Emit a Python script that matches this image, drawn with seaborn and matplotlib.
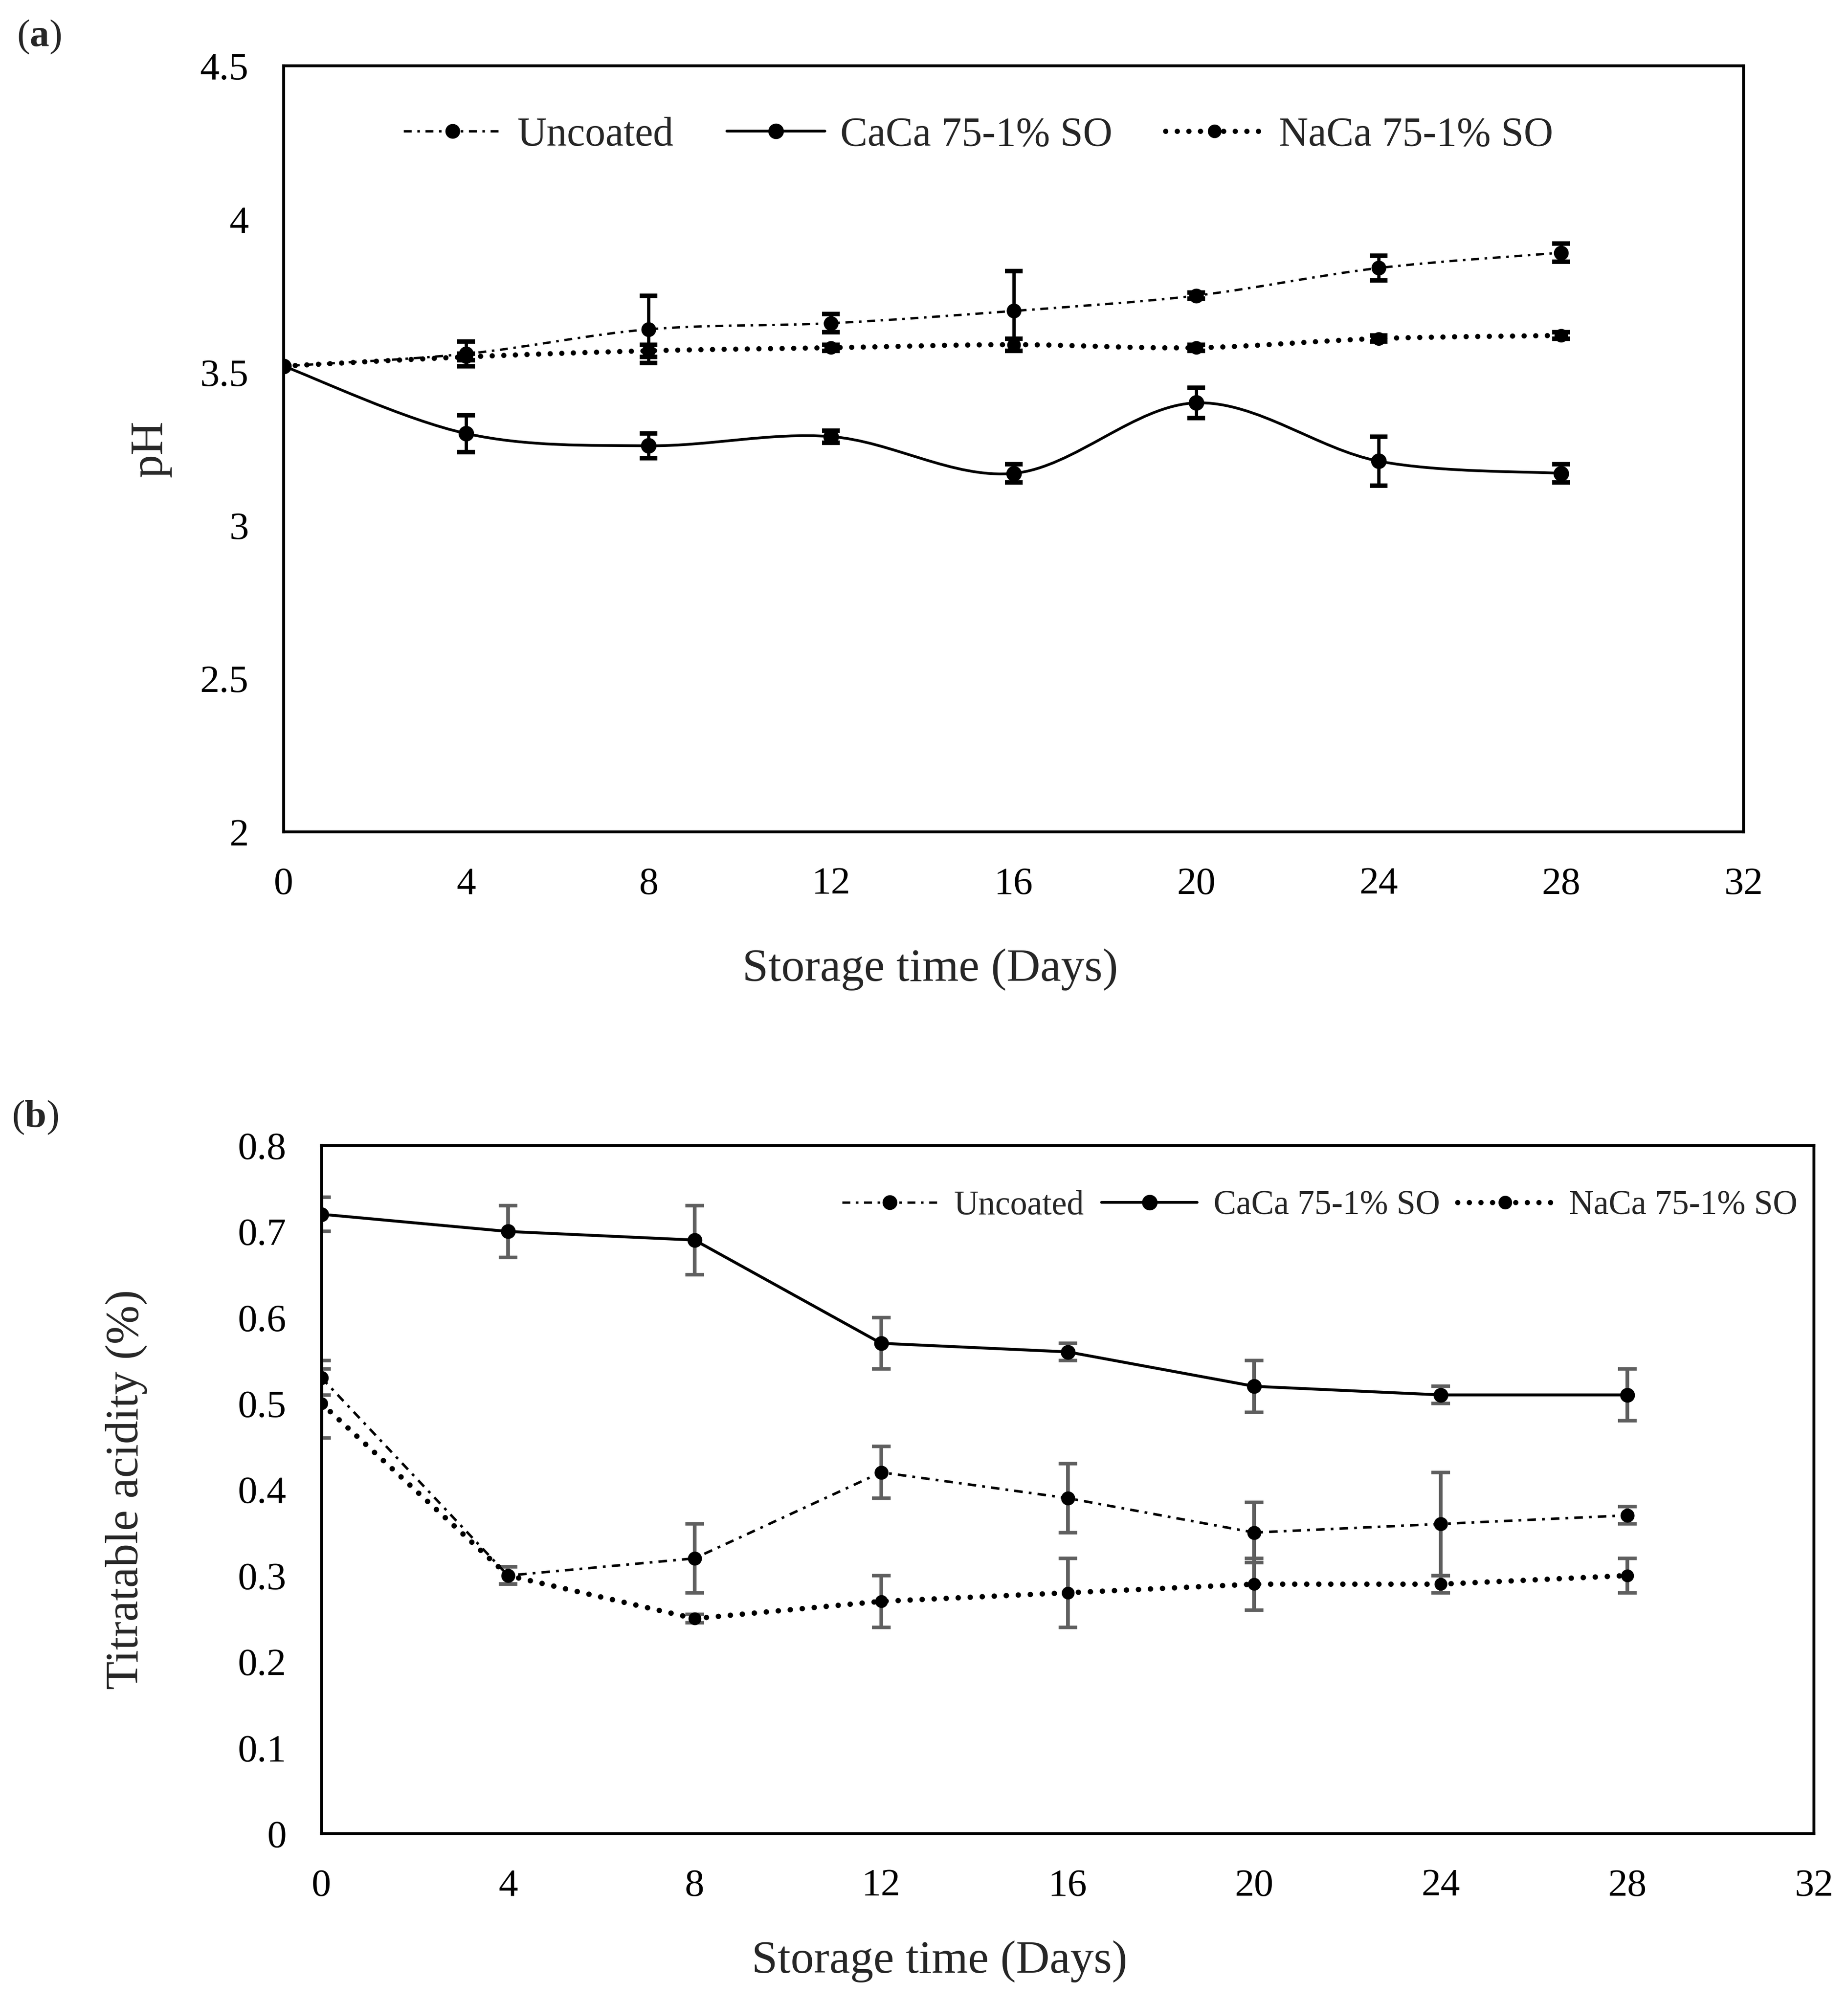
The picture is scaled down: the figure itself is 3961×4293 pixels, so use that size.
import numpy as np
import pandas as pd
import matplotlib
matplotlib.use("Agg")
import matplotlib.pyplot as plt
import seaborn as sns
from matplotlib.path import Path
from matplotlib.patches import PathPatch
from matplotlib.lines import Line2D

# Style
sns.set_theme(style="white")
plt.rcParams["font.family"] = ["Liberation Serif", "DejaVu Serif"]
plt.rcParams["mathtext.fontset"] = "custom"
plt.rcParams["mathtext.rm"] = "Liberation Serif"
plt.rcParams["mathtext.bf"] = "Liberation Serif:bold"

# ------------------------------------
# Data
# ------------------------------------
days = [0, 4, 8, 12, 16, 20, 24, 28]
labels = ["Uncoated", "CaCa 75-1% SO", "NaCa 75-1% SO"]

# (a) pH
ph_uncoated = [3.52, 3.56, 3.64, 3.66, 3.70, 3.75, 3.84, 3.89]
ph_uncoated_sd = [0, 0.04, 0.11, 0.03, 0.13, 0.01, 0.04, 0.03]
ph_caca = [3.52, 3.30, 3.26, 3.29, 3.17, 3.40, 3.21, 3.17]
ph_caca_sd = [0, 0.06, 0.04, 0.02, 0.03, 0.05, 0.08, 0.03]
ph_naca = [3.52, 3.55, 3.57, 3.58, 3.59, 3.58, 3.61, 3.62]
ph_naca_sd = [0, 0.01, 0.02, 0.01, 0.02, 0.01, 0.01, 0.01]

# (b) titratable acidity
ta_uncoated = [0.53, 0.30, 0.32, 0.42, 0.39, 0.35, 0.36, 0.37]
ta_uncoated_sd = [0.02, 0.01, 0.04, 0.03, 0.04, 0.035, 0.06, 0.01]
ta_caca = [0.72, 0.70, 0.69, 0.57, 0.56, 0.52, 0.51, 0.51]
ta_caca_sd = [0.02, 0.03, 0.04, 0.03, 0.01, 0.03, 0.01, 0.03]
ta_naca = [0.50, 0.30, 0.25, 0.27, 0.28, 0.29, 0.29, 0.30]
ta_naca_sd = [0.04, 0.01, 0.005, 0.03, 0.04, 0.03, 0.01, 0.02]

x_ticks = [0, 4, 8, 12, 16, 20, 24, 28, 32]
ph_ticks = [2, 2.5, 3, 3.5, 4, 4.5]
ph_tick_labels = ["2", "2.5", "3", "3.5", "4", "4.5"]
ta_ticks = [0, 0.1, 0.2, 0.3, 0.4, 0.5, 0.6, 0.7, 0.8]
ta_tick_labels = ["0", "0.1", "0.2", "0.3", "0.4", "0.5", "0.6", "0.7", "0.8"]

# line styles per series
styles = {
    "Uncoated": dict(ls=(0, (3.4, 2.4, 1.1, 2.4)), lw=1.2, cap="butt", ms=7.6),
    "CaCa 75-1% SO": dict(ls="-", lw=1.4, cap="butt", ms=8.0),
    "NaCa 75-1% SO": dict(ls=(0, (0.01, 2.2)), lw=2.7, cap="round", ms=7.0),
}


def smooth_path(x, y):
    # Excel-like smoothed line: cubic bezier through the points
    x = np.asarray(x, float)
    y = np.asarray(y, float)
    n = len(x)
    verts = [(x[0], y[0])]
    codes = [Path.MOVETO]
    for i in range(n - 1):
        i0 = max(i - 1, 0)
        i3 = min(i + 2, n - 1)
        c1 = (x[i] + (x[i + 1] - x[i0]) / 6, y[i] + (y[i + 1] - y[i0]) / 6)
        c2 = (x[i + 1] - (x[i3] - x[i]) / 6, y[i + 1] - (y[i3] - y[i]) / 6)
        verts += [c1, c2, (x[i + 1], y[i + 1])]
        codes += [Path.CURVE4] * 3
    return Path(verts, codes)


def style_axes(ax, xlim, ylim, yticks, yticklabels):
    ax.set_xlim(*xlim)
    ax.set_ylim(*ylim)
    ax.set_xticks(x_ticks)
    ax.set_xticklabels([str(t) for t in x_ticks])
    ax.set_yticks(yticks)
    ax.set_yticklabels(yticklabels)
    ax.tick_params(axis="both", length=0, pad=18, labelsize=20, colors="black")
    for sp in ax.spines.values():
        sp.set_visible(True)
        sp.set_color("black")
        sp.set_linewidth(1.5)
    ax.grid(False)


def legend_handles():
    hs = []
    for lab in labels:
        st = styles[lab]
        hs.append(Line2D([0], [0], color="black", lw=st["lw"], ls=st["ls"],
                         dash_capstyle=st["cap"], marker="o", ms=st["ms"],
                         markeredgewidth=0))
    return hs


fig = plt.figure(figsize=(3961 / 300, 4293 / 300), dpi=300)
fig.patch.set_facecolor("white")

# ------------------------------------
# (a) pH - smoothed lines
# ------------------------------------
ax1 = fig.add_axes([608 / 3961, 1 - 1783 / 4293, 3129 / 3961, 1642 / 4293])

ph_series = [(ph_uncoated, ph_uncoated_sd), (ph_caca, ph_caca_sd), (ph_naca, ph_naca_sd)]
for lab, (vals, sd) in zip(labels, ph_series):
    st = styles[lab]
    idx = [i for i, s in enumerate(sd) if s > 0]
    ax1.errorbar([days[i] for i in idx], [vals[i] for i in idx],
                 yerr=[sd[i] for i in idx], fmt="none", ecolor="black",
                 elinewidth=1.7, capsize=4.6, capthick=2.3, zorder=2)
    patch = PathPatch(smooth_path(days, vals), fill=False, edgecolor="black",
                      lw=st["lw"], linestyle=st["ls"], zorder=3)
    patch.set_capstyle(st["cap"])
    ax1.add_patch(patch)
    sns.scatterplot(x=days, y=vals, ax=ax1, color="black", s=st["ms"] ** 2,
                    linewidth=0, zorder=4, legend=False)

style_axes(ax1, (0, 32), (2, 4.5), ph_ticks, ph_tick_labels)
ax1.set_xlabel("Storage time (Days)", fontsize=24)
ax1.xaxis.set_label_coords(0.443, -0.152)
ax1.set_ylabel("pH", fontsize=24)
ax1.yaxis.set_label_coords(-0.077, 0.5)
ax1.legend(legend_handles(), labels, loc="center", bbox_to_anchor=(0.476, 0.909),
           ncol=3, frameon=False, fontsize=21, handlelength=2.4,
           handletextpad=0.38, columnspacing=1.3)

# ------------------------------------
# (b) Titratable acidity - straight lines
# ------------------------------------
ax2 = fig.add_axes([689 / 3961, 1 - 3930 / 4293, 3199 / 3961, 1475 / 4293])

ta_series = [(ta_uncoated, ta_uncoated_sd), (ta_caca, ta_caca_sd), (ta_naca, ta_naca_sd)]
for lab, (vals, sd) in zip(labels, ta_series):
    st = styles[lab]
    ax2.errorbar(days, vals, yerr=sd, fmt="none", ecolor="#5f5f5f",
                 elinewidth=1.9, capsize=4.7, capthick=1.8, zorder=2)
    sns.lineplot(x=days, y=vals, ax=ax2, color="black", lw=st["lw"] + 0.1,
                 linestyle=st["ls"], dash_capstyle=st["cap"], marker="o",
                 markersize=st["ms"] - 0.4, markeredgewidth=0,
                 errorbar=None, zorder=3, legend=False)

style_axes(ax2, (0, 32), (0, 0.8), ta_ticks, ta_tick_labels)
ax2.set_xlabel("Storage time (Days)", fontsize=24)
ax2.xaxis.set_label_coords(0.414, -0.155)
ax2.set_ylabel("Titratable acidity (%)", fontsize=24)
ax2.yaxis.set_label_coords(-0.1166, 0.5)
ax2.legend(legend_handles(), labels, loc="center", bbox_to_anchor=(0.669, 0.912),
           ncol=3, frameon=False, fontsize=17.5, handlelength=2.8,
           handletextpad=0.48, columnspacing=0.52)

# panel labels
fig.text(36 / 3961, 1 - 79 / 4293, r"($\mathbf{a}$)", fontsize=20, va="center", ha="left")
fig.text(25 / 3961, 1 - 2395 / 4293, r"($\mathbf{b}$)", fontsize=20, va="center", ha="left")

fig.savefig("out.png", dpi=300, facecolor="white")
